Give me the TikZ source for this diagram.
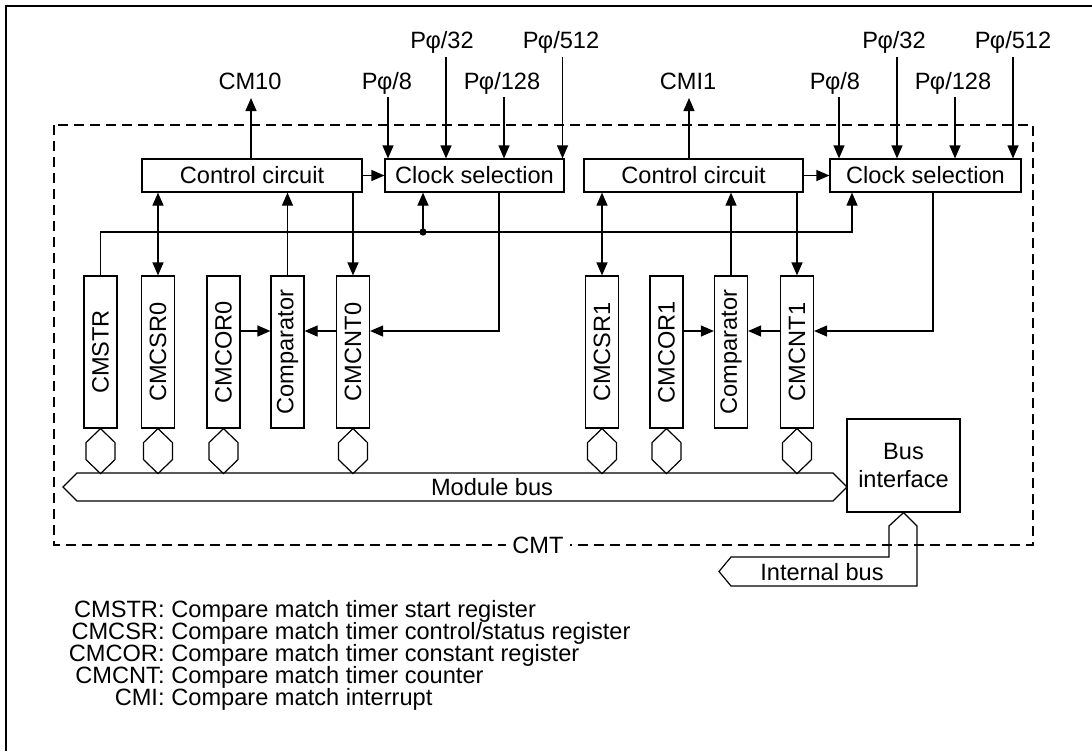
\documentclass[tikz,border=0pt]{standalone}
\usepackage{fontspec}
\setmainfont{Liberation Sans}
\usetikzlibrary{arrows.meta}
\begin{document}
\begin{tikzpicture}[x=0.5pt,y=-0.5pt,
  every node/.style={font=\fontsize{11.8pt}{14pt}\selectfont, inner sep=0pt},
  ln/.style={line width=0.6pt},
  arr/.style={ln,-{Triangle[length=6.5pt,width=5.5pt]}},
  darr/.style={ln,{Triangle[length=6.5pt,width=5.5pt]}-{Triangle[length=6.5pt,width=5.5pt]}},
  blk/.style={draw, ln, minimum height=16.5pt},
  reg/.style={draw, ln, minimum width=16.5pt, minimum height=76pt},
  leg/.style={font=\fontsize{11.8pt}{14pt}\selectfont},
  busshape/.style={ln}
]
\useasboundingbox (0,0) rectangle (1092,751);
% outer frame (top and left)
\draw[line width=1pt] (6,751) -- (6,6) -- (1092,6);
% dashed CMT boundary
\draw[ln, dash pattern=on 5pt off 3pt] (54,125) rectangle (1033,545);
\node[fill=white, inner xsep=3pt, inner ysep=1pt] (cmt) at (538,545) {CMT};

% top blocks
\node[blk, minimum width=110pt]   (ctrl0) at (252,175.5)   {Control circuit};
\node[blk, minimum width=89.5pt]  (clk0)  at (474.5,175.5) {Clock selection};
\node[blk, minimum width=109.5pt] (ctrl1) at (693.5,175.5) {Control circuit};
\node[blk, minimum width=95.5pt]  (clk1)  at (925.5,175.5) {Clock selection};
\draw[arr] (ctrl0.east) -- (clk0.west);
\draw[arr] (ctrl1.east) -- (clk1.west);

% outputs / clock inputs, group 0
\node[anchor=base] (cmo0) at (250,89) {CM10};
\node[anchor=base] (pa8)  at (387,89) {P\kern-0.3pt φ/8};
\node[anchor=base] (pa32) at (442,48) {P\kern-0.3pt φ/32};
\node[anchor=base] (pa128) at (502,89) {P\kern-0.3pt φ/128};
\node[anchor=base] (pa512) at (561,48) {P\kern-0.3pt φ/512};
\coordinate (o0) at (251,98);
\coordinate (ta8) at (388,97);
\coordinate (ta32) at (446,57);
\coordinate (ta128) at (504,97);
\coordinate (ta512) at (562.5,57);
\draw[arr] (o0 |- ctrl0.north) -- (o0);
\foreach \t in {ta8,ta32,ta128,ta512} \draw[arr] (\t) -- (\t |- clk0.north);

% group 1
\node[anchor=base] (cmo1) at (688,89) {CMI1};
\node[anchor=base] (pb8)  at (835,89) {P\kern-0.3pt φ/8};
\node[anchor=base] (pb32) at (894,48) {P\kern-0.3pt φ/32};
\node[anchor=base] (pb128) at (953,89) {P\kern-0.3pt φ/128};
\node[anchor=base] (pb512) at (1013,48) {P\kern-0.3pt φ/512};
\coordinate (o1) at (689,98);
\coordinate (tb8) at (839,97);
\coordinate (tb32) at (897,57);
\coordinate (tb128) at (955,97);
\coordinate (tb512) at (1013,57);
\draw[arr] (o1 |- ctrl1.north) -- (o1);
\foreach \t in {tb8,tb32,tb128,tb512} \draw[arr] (\t) -- (\t |- clk1.north);

% registers
\node[reg] (cmstr)  at (100.5,352) {\rotatebox{90}{CMSTR}};
\node[reg] (cmcsr0) at (158,352)   {\rotatebox{90}{CMCSR0}};
\node[reg] (cmcor0) at (223.5,352) {\rotatebox{90}{CMCOR0}};
\node[reg] (cmp0)   at (287.5,352) {\rotatebox{90}{Comparator}};
\node[reg] (cmcnt0) at (353,352)   {\rotatebox{90}{CMCNT0}};
\node[reg] (cmcsr1) at (602,352)   {\rotatebox{90}{CMCSR1}};
\node[reg] (cmcor1) at (666.5,352) {\rotatebox{90}{CMCOR1}};
\node[reg] (cmp1)   at (731,352)   {\rotatebox{90}{Comparator}};
\node[reg] (cmcnt1) at (797,352)   {\rotatebox{90}{CMCNT1}};

% start line with junction
\coordinate (j0) at (423,232);
\coordinate (j1) at (852,232);
\draw[arr] (cmstr.north) |- (j1) -- (j1 |- clk1.south);
\draw[arr] (j0) -- (j0 |- clk0.south);
\fill (j0) circle (1.8pt);

% control connections group 0
\draw[darr] (cmcsr0.north |- ctrl0.south) -- (cmcsr0.north);
\draw[arr] (cmp0.north) -- (cmp0.north |- ctrl0.south);
\draw[arr] (cmcnt0.north |- ctrl0.south) -- (cmcnt0.north);
\coordinate (k0) at (499,331);
\draw[arr] (k0 |- clk0.south) -- (k0) -- (cmcnt0.east |- k0);
\draw[arr] (cmcor0.east |- k0) -- (cmp0.west |- k0);
\draw[arr] (cmcnt0.west |- k0) -- (cmp0.east |- k0);

% control connections group 1
\draw[darr] (cmcsr1.north |- ctrl1.south) -- (cmcsr1.north);
\draw[arr] (cmp1.north) -- (cmp1.north |- ctrl1.south);
\draw[arr] (cmcnt1.north |- ctrl1.south) -- (cmcnt1.north);
\coordinate (k1) at (933,331);
\draw[arr] (k1 |- clk1.south) -- (k1) -- (cmcnt1.east |- k1);
\draw[arr] (cmcor1.east |- k1) -- (cmp1.west |- k1);
\draw[arr] (cmcnt1.west |- k1) -- (cmp1.east |- k1);

% bus connectors (hexagons)
\foreach \r in {cmstr,cmcsr0,cmcor0,cmcnt0,cmcsr1,cmcor1,cmcnt1}
  \draw[ln] (\r.south) -- ++(14.5,14) -- ++(0,17) -- ++(-14.5,14) -- ++(-14.5,-14) -- ++(0,-17) -- cycle;

% bus interface
\node[draw, ln, minimum width=56.5pt, minimum height=46.5pt, align=center,
      font=\fontsize{11.8pt}{14pt}\selectfont] (busif) at (903.5,465.5) {Bus\\interface};

% module bus
\coordinate (mbtip) at (847,487);
\draw[busshape] (77,473) -- (833,473) -- (mbtip) -- (833,501) -- (77,501) -- (63,487) -- cycle;
\node (mbus) at (492,487) {Module bus};

% internal bus
\draw[busshape] (busif.south) -- (917,526) -- (917,586) -- (731,586) -- (719,571.5) -- (731,557) -- (889,557) -- (889,526) -- cycle;
\node (ibus) at (822,572) {Internal bus};

% legend
\node[leg, anchor=base east] (l1a) at (165,617) {CMSTR:};
\node[leg, anchor=base west] (l1b) at (171,617) {Compare match timer start register};
\node[leg, anchor=base east] (l2a) at (165,639.2) {CMCSR:};
\node[leg, anchor=base west] (l2b) at (171,639.2) {Compare match timer control/status register};
\node[leg, anchor=base east] (l3a) at (165,661.4) {CMCOR:};
\node[leg, anchor=base west] (l3b) at (171,661.4) {Compare match timer constant register};
\node[leg, anchor=base east] (l4a) at (165,683.6) {CMCNT:};
\node[leg, anchor=base west] (l4b) at (171,683.6) {Compare match timer counter};
\node[leg, anchor=base east] (l5a) at (165,705.8) {CMI:};
\node[leg, anchor=base west] (l5b) at (171,705.8) {Compare match interrupt};
\end{tikzpicture}
\end{document}
